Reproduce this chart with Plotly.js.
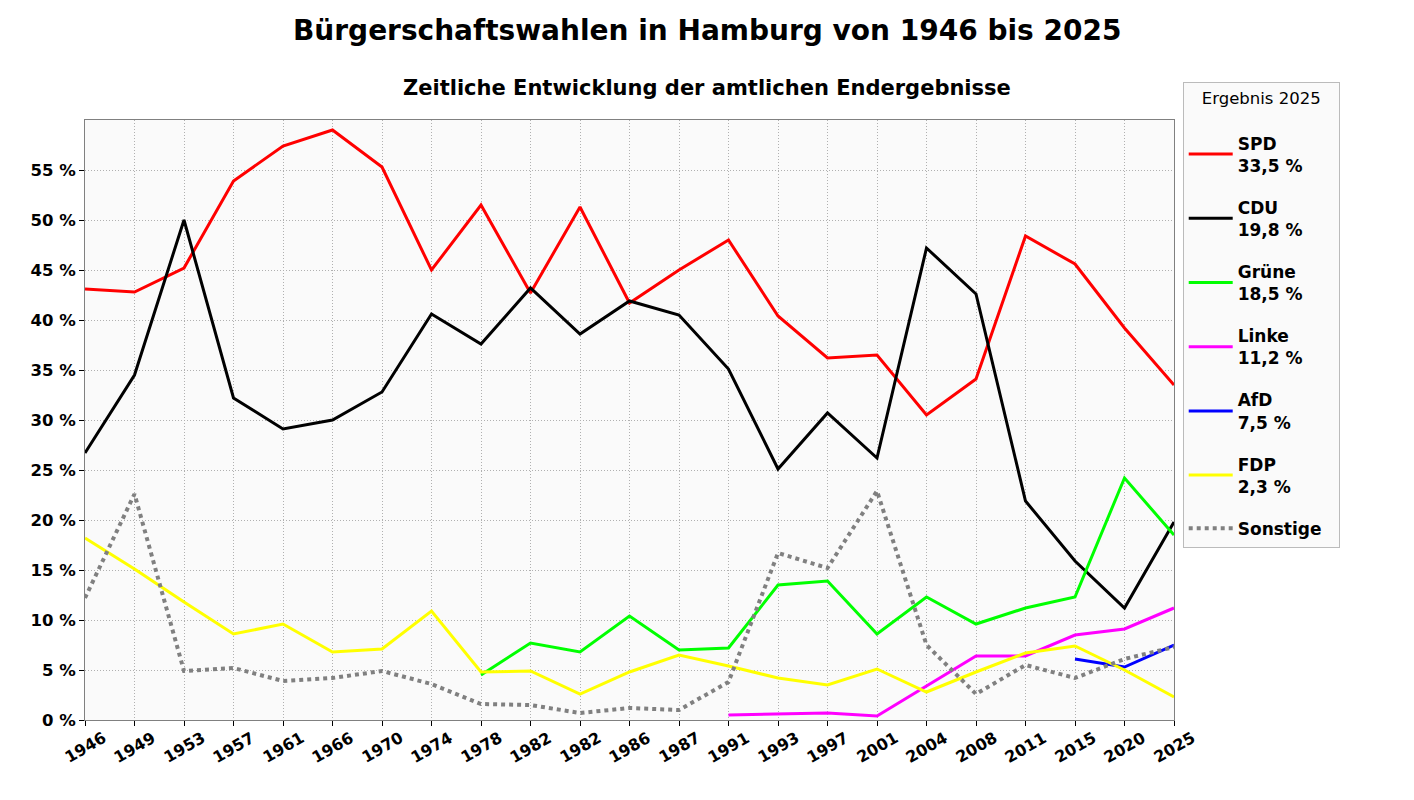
<!DOCTYPE html>
<html>
<head>
<meta charset="utf-8">
<script src="https://cdn.plot.ly/plotly-3.0.1.min.js"></script>
<style>html,body{margin:0;padding:0;background:#fff;}#chart{width:1414px;height:800px;}</style>
</head>
<body>
<div id="chart"></div>
<script>
const years = ["1946","1949","1953","1957","1961","1966","1970","1974","1978","1982","1982","1986","1987","1991","1993","1997","2001","2004","2008","2011","2015","2020","2025"];
const spd = [43.1,42.8,45.2,53.9,57.4,59.0,55.3,45.0,51.5,42.7,51.3,41.7,45.0,48.0,40.4,36.2,36.5,30.5,34.1,48.4,45.6,39.2,33.5];
const cdu = [26.7,34.5,50.0,32.2,29.1,30.0,32.8,40.6,37.6,43.2,38.6,41.9,40.5,35.1,25.1,30.7,26.2,47.2,42.6,21.9,15.9,11.2,19.8];
const gruene = [null,null,null,null,null,null,null,null,4.5,7.7,6.8,10.4,7.0,7.2,13.5,13.9,8.6,12.3,9.6,11.2,12.3,24.2,18.5];
const linke = [null,null,null,null,null,null,null,null,null,null,null,null,null,0.5,0.6,0.7,0.4,3.4,6.4,6.4,8.5,9.1,11.2];
const afd = [null,null,null,null,null,null,null,null,null,null,null,null,null,null,null,null,null,null,null,null,6.1,5.3,7.5];
const fdp = [18.2,15.1,11.8,8.6,9.6,6.8,7.1,10.9,4.8,4.9,2.6,4.8,6.5,5.4,4.2,3.5,5.1,2.8,4.8,6.7,7.4,5.0,2.3];
const sonstige = [12.2,22.6,4.9,5.2,3.9,4.2,4.9,3.6,1.6,1.5,0.7,1.2,1.0,3.8,16.7,15.2,22.9,7.5,2.6,5.5,4.2,6.1,7.3];
const names = ["SPD<br>33,5 %","CDU<br>19,8 %","Grüne<br>18,5 %","Linke<br>11,2 %","AfD<br>7,5 %","FDP<br>2,3 %","Sonstige"];
const colors = ["#ff0000","#000000","#00ff00","#ff00ff","#0000ff","#ffff00","#808080"];
const series = [spd,cdu,gruene,linke,afd,fdp,sonstige];
const yTicks = [0,5,10,15,20,25,30,35,40,45,50,55];

const idx = years.map((_, i) => i);
const traces = series.map((s, k) => ({
  x: idx, y: s, type: 'scatter', mode: 'lines', name: names[k],
  legendgroup: 'g' + k,
  line: {color: colors[k], width: k === 6 ? 4 : 3, dash: k === 6 ? 'dot' : 'solid'},
  connectgaps: false, hoverinfo: 'skip'
}));

const tickLabels = years.map((t, i) => ({
  text: t, xref: 'x', yref: 'paper', x: i, y: 0, yshift: -27,
  xanchor: 'center', yanchor: 'middle', textangle: -30, showarrow: false,
  font: {family: 'DejaVu Sans', size: 16, weight: 'bold', color: '#000'}
}));

const layout = {
  width: 1414, height: 800,
  margin: {l: 85, r: 240, t: 120, b: 80},
  paper_bgcolor: '#ffffff', plot_bgcolor: '#fafafa',
  font: {family: 'DejaVu Sans', color: '#000'},
  showlegend: true,
  legend: {
    x: 1.008, y: 1.064, xanchor: 'left', yanchor: 'top',
    bgcolor: '#fafafa', bordercolor: '#bbbbbb', borderwidth: 1,
    font: {family: 'DejaVu Sans', size: 17, weight: 'bold', color: '#000'},
    title: {text: '&nbsp;&nbsp;&nbsp;Ergebnis 2025&nbsp;&nbsp;&nbsp;<br> ', font: {family: 'DejaVu Sans', size: 16.5, weight: 'normal', color: '#000'}, side: 'top center'},
    tracegroupgap: 17, itemwidth: 44, maxheight: 760
  },
  xaxis: {
    range: [0, 22], tickmode: 'array', tickvals: idx, ticktext: years, showticklabels: false,
    ticks: 'outside', ticklen: 5, tickcolor: '#000',
    showgrid: true, gridcolor: '#b0b0b0', griddash: '1px,2px', gridwidth: 1,
    showline: true, linecolor: '#808080', linewidth: 1, mirror: true, zeroline: false
  },
  yaxis: {
    range: [0, 60], tickmode: 'array', tickvals: yTicks, ticktext: yTicks.map(v => v + ' %'),
    tickfont: {family: 'DejaVu Sans', size: 16.5, weight: 'bold', color: '#000'},
    ticks: 'outside', ticklen: 5, tickcolor: '#000',
    showgrid: true, gridcolor: '#b0b0b0', griddash: '1px,2px', gridwidth: 1,
    showline: true, linecolor: '#808080', linewidth: 1, mirror: true, zeroline: false
  },
  annotations: [
    {text: 'Bürgerschaftswahlen in Hamburg von 1946 bis 2025', xref: 'paper', yref: 'paper',
     x: (707 - 85) / 1089, y: (720 - 30) / 600, xanchor: 'center', yanchor: 'middle', showarrow: false,
     font: {family: 'DejaVu Sans', size: 28, weight: 'bold', color: '#000'}},
    {text: 'Zeitliche Entwicklung der amtlichen Endergebnisse', xref: 'paper', yref: 'paper',
     x: (707 - 85) / 1089, y: (720 - 88) / 600, xanchor: 'center', yanchor: 'middle', showarrow: false,
     font: {family: 'DejaVu Sans', size: 21, weight: 'bold', color: '#000'}}
  ].concat(tickLabels)
};

Plotly.newPlot('chart', traces, layout, {displayModeBar: false, staticPlot: true});
</script>
</body>
</html>
